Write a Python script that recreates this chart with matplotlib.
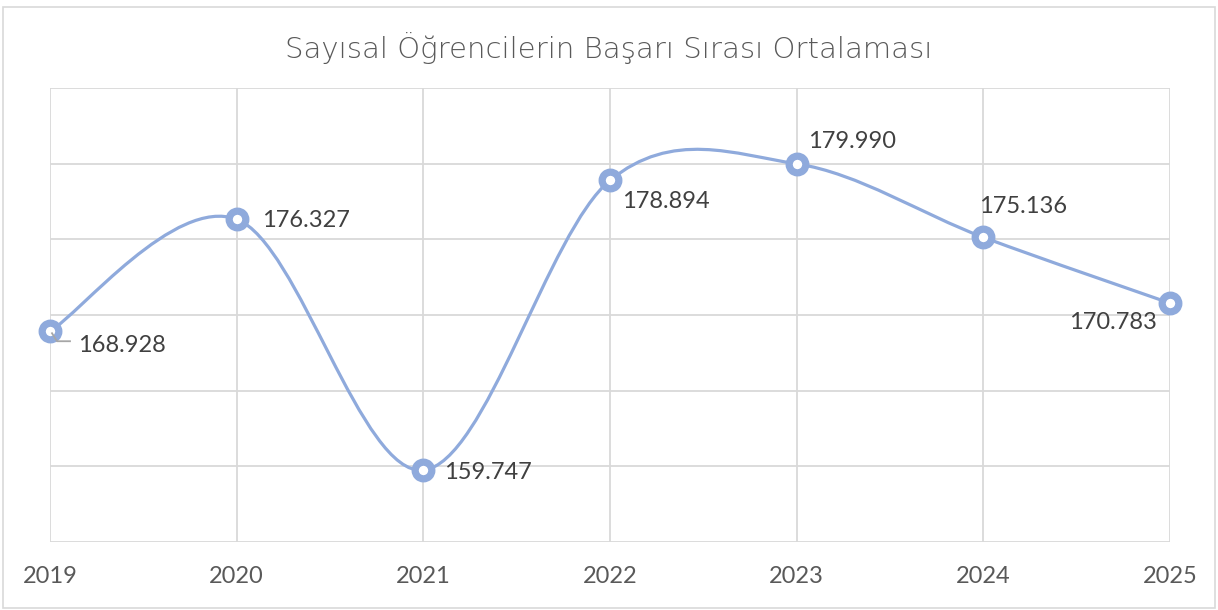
import matplotlib
matplotlib.use("Agg")
import matplotlib.pyplot as plt
from matplotlib.path import Path
from matplotlib.patches import PathPatch, Rectangle
from matplotlib.lines import Line2D
import numpy as np

years = ["2019", "2020", "2021", "2022", "2023", "2024", "2025"]
values = [168.928, 176.327, 159.747, 178.894, 179.990, 175.136, 170.783]
labels = ["168.928", "176.327", "159.747", "178.894", "179.990", "175.136", "170.783"]
title = "Sayısal Öğrencilerin Başarı Sırası Ortalaması"

plt.rcParams['font.family'] = ['Lato', 'DejaVu Sans']
LINE = "#8FAADC"
TXT = "#595959"
GRID = "#D9D9D9"

fig = plt.figure(figsize=(12.18, 6.10), dpi=100)
ax = fig.add_axes([50/1218, 1-542/610, 1120/1218, 454/610])

x = np.arange(len(values), dtype=float)
y = np.array(values)

# Smoothed line (Bezier smoothing like spreadsheet charts)
verts = [(x[0], y[0])]
codes = [Path.MOVETO]
n = len(x)
for i in range(n - 1):
    p0 = (x[max(i-1, 0)], y[max(i-1, 0)])
    p1 = (x[i], y[i])
    p2 = (x[i+1], y[i+1])
    p3 = (x[min(i+2, n-1)], y[min(i+2, n-1)])
    c1 = (p1[0] + (p2[0]-p0[0])/6, p1[1] + (p2[1]-p0[1])/6)
    c2 = (p2[0] - (p3[0]-p1[0])/6, p2[1] - (p3[1]-p1[1])/6)
    verts += [c1, c2, p2]
    codes += [Path.CURVE4]*3
ax.add_patch(PathPatch(Path(verts, codes), facecolor='none', edgecolor=LINE, lw=2.3, zorder=3))
ax.plot(x, y, linestyle='none', marker='o', markersize=12, markerfacecolor='white',
        markeredgecolor=LINE, markeredgewidth=5.2, zorder=4, clip_on=False)

ax.set_xlim(0, n-1)
ax.set_ylim(155, 185)
ax.set_yticks(np.arange(155, 186, 5))
ax.set_xticks(x)
ax.set_xticklabels(years)
ax.grid(True, color=GRID, lw=1.3)
ax.set_axisbelow(True)
for s in ax.spines.values():
    s.set_visible(False)
ax.tick_params(axis='both', length=0, labelsize=17, labelcolor=TXT, pad=17)
ax.tick_params(axis='y', labelleft=False)

offsets = [(28, -14, 'left'), (25, -1, 'left'), (21, -2, 'left'), (12, -21, 'left'),
           (11, 22, 'left'), (-4, 31, 'left'), (-13, -19, 'right')]
for xi, yi, lab, (dx, dy, ha) in zip(x, y, labels, offsets):
    ax.annotate(lab, (xi, yi), xytext=(dx, dy), textcoords='offset pixels',
                ha=ha, va='center', fontsize=17, color="#404040", zorder=5,
                annotation_clip=False)

# leader line for the first label (display pixels relative to the first point)
px, py = ax.transData.transform((x[0], y[0]))
fig.add_artist(Line2D([px + 2, px + 7, px + 20], [py - 2, py - 10, py - 10],
                      transform=None, color='#A6A6A6', lw=1.3, zorder=2))

fig.text(0.5, 1-48/610, title, ha='center', va='center', fontsize=21, color=TXT,
         family=['DejaVu Sans'], fontweight='light')
fig.patches.append(Rectangle((3/1218, 2/610), 1212/1218, 601/610, transform=fig.transFigure,
                             facecolor='none', edgecolor=GRID, lw=1.2))
fig.savefig("out.png", dpi=100, facecolor='white')
